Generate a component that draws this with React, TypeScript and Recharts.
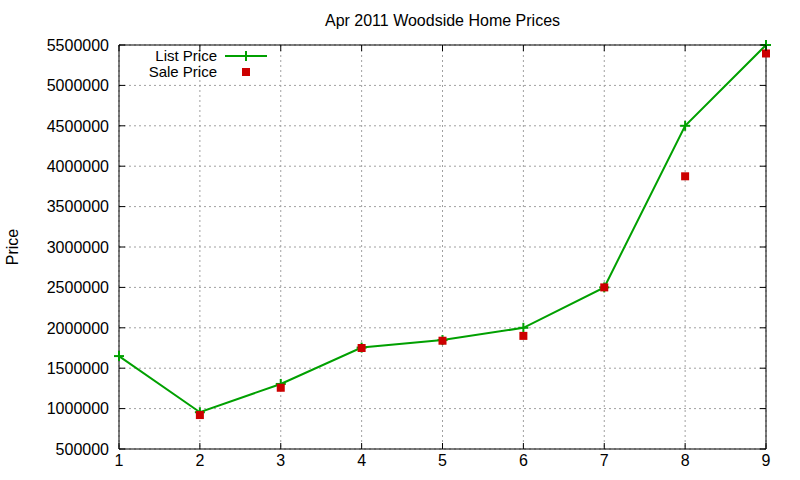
import React from 'react';
import {
  CartesianGrid,
  Line,
  LineChart,
  ReferenceArea,
  XAxis,
  YAxis,
} from 'recharts';

const months = [1, 2, 3, 4, 5, 6, 7, 8, 9];
const listPrice = [1650000, 955000, 1305000, 1755000, 1848000, 2000000, 2500000, 4500000, 5500000];
const salePrice = [null, 920000, 1258000, 1750000, 1840000, 1900000, 2500000, 3875000, 5395000];
const yTicks = [500000, 1000000, 1500000, 2000000, 2500000, 3000000, 3500000, 4000000, 4500000, 5000000, 5500000];

const W = 800;
const H = 480;
const PLOT_LEFT = 119;
const PLOT_RIGHT = 766;
const PLOT_TOP = 45;
const PLOT_BOTTOM = 449;
const GREEN = '#00a000';
const RED = '#cc0000';
const FONT = '"Liberation Sans", Arial, sans-serif';

const data = months.map((m, i) => ({ m, list: listPrice[i], sale: salePrice[i] }));

function YTick({ x, y, payload }: any) {
  return (
    <g>
      <text x={x} y={y} dy="0.36em" textAnchor="end" fontSize={16} fontFamily={FONT} fill="#000">
        {payload.value}
      </text>
      <line x1={PLOT_LEFT} x2={PLOT_LEFT + 6} y1={y} y2={y} stroke="#000" />
      <line x1={PLOT_RIGHT - 6} x2={PLOT_RIGHT} y1={y} y2={y} stroke="#000" />
    </g>
  );
}

function XTick({ x, y, payload }: any) {
  return (
    <g>
      <text x={x} y={y} dy="0.71em" textAnchor="middle" fontSize={16} fontFamily={FONT} fill="#000">
        {payload.value}
      </text>
      <line x1={x} x2={x} y1={PLOT_BOTTOM - 6} y2={PLOT_BOTTOM} stroke="#000" />
      <line x1={x} x2={x} y1={PLOT_TOP} y2={PLOT_TOP + 6} stroke="#000" />
    </g>
  );
}

function PlusDot({ cx, cy }: any) {
  if (cx == null || cy == null) return null;
  return (
    <g>
      <line x1={cx - 5} x2={cx + 5} y1={cy} y2={cy} stroke={GREEN} strokeWidth={2} />
      <line x1={cx} x2={cx} y1={cy - 5} y2={cy + 5} stroke={GREEN} strokeWidth={2} />
    </g>
  );
}

function SquareDot({ cx, cy, value }: any) {
  if (cx == null || cy == null || value == null) return null;
  return <rect x={cx - 4} y={cy - 4} width={8} height={8} fill={RED} />;
}

function PriceLabel({ viewBox }: any) {
  const cy = viewBox.y + viewBox.height / 2;
  return (
    <text
      x={12}
      y={cy}
      transform={`rotate(-90 12 ${cy})`}
      textAnchor="middle"
      dominantBaseline="central"
      fontSize={16}
      fontFamily={FONT}
      fill="#000"
    >
      Price
    </text>
  );
}

export default function App() {
  return (
    <div style={{ position: 'absolute', left: 0, top: 0, width: W, height: H, background: '#fff' }}>
      <LineChart
        width={W}
        height={H}
        data={data}
        margin={{ top: PLOT_TOP, right: W - PLOT_RIGHT, bottom: 0, left: 0 }}
      >
        <CartesianGrid stroke="#a0a0a0" strokeDasharray="2 3" />
        <XAxis
          dataKey="m"
          type="number"
          domain={[1, 9]}
          ticks={months}
          interval={0}
          height={H - PLOT_BOTTOM}
          tickSize={0}
          tickMargin={6}
          axisLine={false}
          tickLine={false}
          tick={<XTick />}
        />
        <YAxis
          type="number"
          domain={[500000, 5500000]}
          ticks={yTicks}
          interval={0}
          width={PLOT_LEFT}
          tickSize={0}
          tickMargin={10}
          axisLine={false}
          tickLine={false}
          tick={<YTick />}
          label={<PriceLabel />}
        />
        <ReferenceArea x1={1} x2={9} y1={500000} y2={5500000} fill="none" stroke="#000" strokeWidth={1} />
        <Line
          dataKey="list"
          stroke={GREEN}
          strokeWidth={2}
          dot={<PlusDot />}
          activeDot={false}
          isAnimationActive={false}
        />
        <Line
          dataKey="sale"
          stroke="none"
          dot={<SquareDot />}
          activeDot={false}
          connectNulls={false}
          isAnimationActive={false}
        />
      </LineChart>
      <svg
        width={W}
        height={H}
        style={{ position: 'absolute', left: 0, top: 0, pointerEvents: 'none' }}
        fontFamily={FONT}
        fontSize={16}
      >
        <text x={(PLOT_LEFT + PLOT_RIGHT) / 2} y={20} textAnchor="middle" dominantBaseline="central" fill="#000">
          Apr 2011 Woodside Home Prices
        </text>
        <text x={217} y={55} fontSize={15} textAnchor="end" dominantBaseline="central" fill="#000">
          List Price
        </text>
        <line x1={225} x2={267} y1={56} y2={56} stroke={GREEN} strokeWidth={2} />
        <line x1={241} x2={251} y1={56} y2={56} stroke={GREEN} strokeWidth={2} />
        <line x1={246} x2={246} y1={51} y2={61} stroke={GREEN} strokeWidth={2} />
        <text x={217} y={71} fontSize={15} textAnchor="end" dominantBaseline="central" fill="#000">
          Sale Price
        </text>
        <rect x={242} y={68} width={8} height={8} fill={RED} />
      </svg>
    </div>
  );
}
